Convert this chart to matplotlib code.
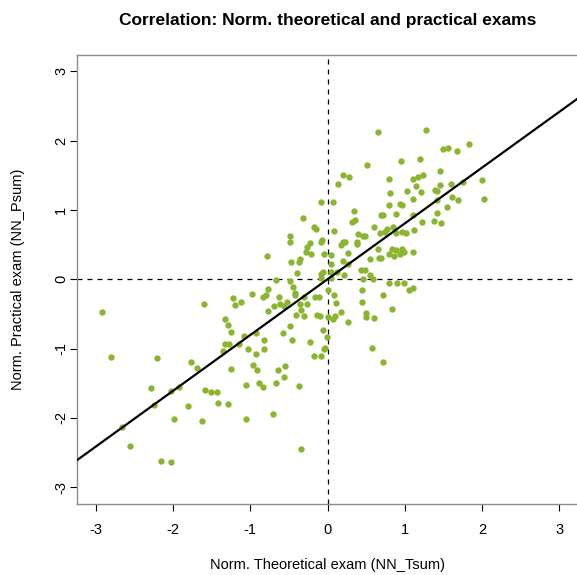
import numpy as np
import matplotlib
matplotlib.use('Agg')
import matplotlib.pyplot as plt

plt.rcParams['font.family'] = ['Liberation Sans', 'DejaVu Sans']

# normalised exam scores
nn_tsum = [
    -2.92, -1.60, -1.32, -1.29, -1.25, -1.32, -1.27, -1.35, -2.80, -2.21,
    -1.76, -1.69, -1.25, -2.28, -2.03, -1.92, -1.58, -1.51, -1.43, -2.25,
    -1.80, -1.42, -1.29, -2.66, -1.98, -1.62, -2.56, -2.16, -2.02,
    -0.09, 0.07, -0.32, -0.17, -0.15, 0.09, -0.48, -0.49, -0.07, -0.08,
    -0.23, -0.26, -0.28, -0.21, -0.04, 0.05, -0.78, -0.36, -0.37, -0.47,
    0.04, -0.40, -0.06, -0.08, -0.09, 0.04, 0.05, -0.67, -0.48,
    -0.44, -0.77, -0.42, -0.42, -0.98, -1.22, -0.84, -0.80, -0.63, -0.31,
    -0.16, -0.11, 0.00, 0.08, -1.12, -1.19, -0.69, -0.61, -0.56, -0.52,
    -0.36, -0.26, -0.34, -0.77, -0.41, -0.31, -0.13, -0.10, 0.00, -0.49,
    -0.58, -0.06, -0.93, -0.01, -1.08, -0.82, -0.46, -1.14, -0.23, -0.03,
    -0.05, -1.03, -0.93, -0.82, -0.17, -0.09, -0.97, -0.55, -0.64, -0.91,
    -0.56, -1.05, -0.89, -0.83, -0.67, -0.37, -0.71, -1.05, -0.34,
    0.65, 0.95, 0.51, 0.20, 0.28, 0.79, 1.11, 0.13, 0.81, 1.03, 1.11,
    1.27, 1.50, 1.56, 1.68, 1.83, 1.20, 1.45, 1.17, 1.23, 2.00, 1.15,
    1.21, 1.45, 1.60, 1.75, 1.39, 1.41, 1.61, 1.69, 2.03, 1.42,
    0.34, 0.94, 0.96, 0.79, 0.69, 0.72, 0.89, 0.32, 0.36, 1.11, 0.60,
    0.85, 0.77, 0.39, 0.46, 0.49, 0.68, 0.75, 0.89, 0.96, 1.01, 0.20,
    0.23, 0.18, 0.38, 0.38, 0.65, 0.83, 0.88, 0.96, 0.99, 0.94, 0.27,
    0.79, 0.86, 0.67, 0.69, 0.55, 0.20, 1.11, 0.26, 0.12, 0.43, 0.49,
    0.55, 0.21, 0.46, 0.59, 0.79, 0.90, 0.99,
    1.55, 1.41, 1.22, 1.38, 1.47, 1.12,
    1.11, 1.05, 0.72, 0.44, 0.11, 0.45, 0.84, 0.18, 0.10, 0.07, 0.50,
    0.50, 0.60, 0.26, 0.57, 0.72,
]
nn_psum = [
    -0.47, -0.35, -0.58, -0.66, -0.76, -0.93, -0.93, -1.03, -1.12, -1.14,
    -1.19, -1.28, -1.30, -1.57, -1.61, -1.55, -1.59, -1.63, -1.63, -1.82,
    -1.83, -1.79, -1.80, -2.13, -2.02, -2.05, -2.41, -2.62, -2.63,
    1.11, 1.11, 0.88, 0.76, 0.73, 0.69, 0.62, 0.53, 0.56, 0.54,
    0.52, 0.46, 0.39, 0.37, 0.37, 0.35, 0.34, 0.29, 0.25, 0.25,
    0.22, 0.09, 0.11, 0.07, 0.02, 0.10, 0.02, -0.01, -0.03,
    -0.11, -0.14, -0.20, -0.23, -0.21, -0.27, -0.25, -0.23, -0.25, -0.25,
    -0.25, -0.25, -0.16, -0.23, -0.33, -0.37, -0.38, -0.36, -0.38, -0.33,
    -0.35, -0.36, -0.44, -0.46, -0.51, -0.53, -0.52, -0.53, -0.54, -0.67,
    -0.77, -0.73, -0.78, -0.83, -0.82, -0.87, -0.87, -0.94, -0.91, -0.99,
    -1.00, -1.01, -1.08, -1.01, -1.11, -1.10, -1.24, -1.25, -1.31, -1.31,
    -1.41, -1.53, -1.49, -1.55, -1.50, -1.54, -1.94, -2.02, -2.45,
    2.12, 1.71, 1.65, 1.51, 1.48, 1.45, 1.45, 1.37, 1.24, 1.27, 1.16,
    2.15, 1.88, 1.89, 1.85, 1.95, 1.73, 1.56, 1.47, 1.51, 1.43, 1.34,
    1.26, 1.36, 1.37, 1.40, 1.29, 1.27, 1.19, 1.14, 1.15, 1.14,
    0.99, 1.08, 1.07, 1.07, 0.93, 0.92, 0.94, 0.83, 0.85, 0.92, 0.76,
    0.76, 0.73, 0.65, 0.62, 0.62, 0.67, 0.68, 0.67, 0.68, 0.66, 0.54,
    0.54, 0.49, 0.54, 0.51, 0.44, 0.43, 0.42, 0.43, 0.40, 0.36, 0.38,
    0.36, 0.34, 0.31, 0.31, 0.29, 0.27, 0.39, 0.22, 0.11, 0.13, 0.13,
    0.06, 0.06, 0.00, 0.00, -0.05, -0.06, -0.06,
    1.04, 0.96, 0.82, 0.84, 0.81, 0.71,
    -0.13, -0.16, -0.23, -0.16, -0.34, -0.33, -0.43, -0.47, -0.53, -0.58, -0.48,
    -0.54, -0.56, -0.62, -0.99, -1.20,
]

# abline(lm(NN_Psum ~ NN_Tsum))
fit_intercept = 0.0
fit_slope = 0.805

ticks = [-3, -2, -1, 0, 1, 2, 3]

W, H = 577, 575
fig = plt.figure(figsize=(W / 100, H / 100), dpi=100)
ax = fig.add_axes([77 / W, (H - 504) / H, 501 / W, 449.5 / H])

ax.scatter(nn_tsum, nn_psum, s=21, color='#8bb52f', linewidths=0, zorder=3)
ax.axline((0, fit_intercept), slope=fit_slope, color='black', lw=1.6, zorder=4)
ax.axhline(0, color='black', lw=0.9, ls=(0, (4, 4)), zorder=2)
ax.axvline(0, color='black', lw=0.9, ls=(0, (4, 4)), zorder=2)

ax.set_xlim(-3.24, 3.24)
ax.set_ylim(-3.24, 3.24)
ax.set_xticks(ticks)
ax.set_yticks(ticks)
ax.set_xticklabels([str(t) for t in ticks])
ax.set_yticklabels([str(t) for t in ticks], rotation=90, va='center')
ax.tick_params(axis='both', length=5, width=0.8, color='black', labelsize=10.5)
ax.tick_params(axis='x', pad=9)
ax.tick_params(axis='y', pad=1.5)
for sp in ax.spines.values():
    sp.set_color('#8c8c8c')
    sp.set_linewidth(1.0)

ax.set_title('Correlation: Norm. theoretical and practical exams',
             fontsize=12.5, fontweight='bold', pad=21)
ax.set_xlabel('Norm. Theoretical exam (NN_Tsum)', fontsize=10.5)
ax.set_ylabel('Norm. Practical exam (NN_Psum)', fontsize=10.5)
ax.xaxis.label.set_va('center')
ax.yaxis.label.set_va('center')
ax.xaxis.set_label_coords(0.5, (504 - 565) / 449.5)
ax.yaxis.set_label_coords((18 - 77) / 501, 0.5)

plt.savefig('out.png', dpi=100)
plt.close()
